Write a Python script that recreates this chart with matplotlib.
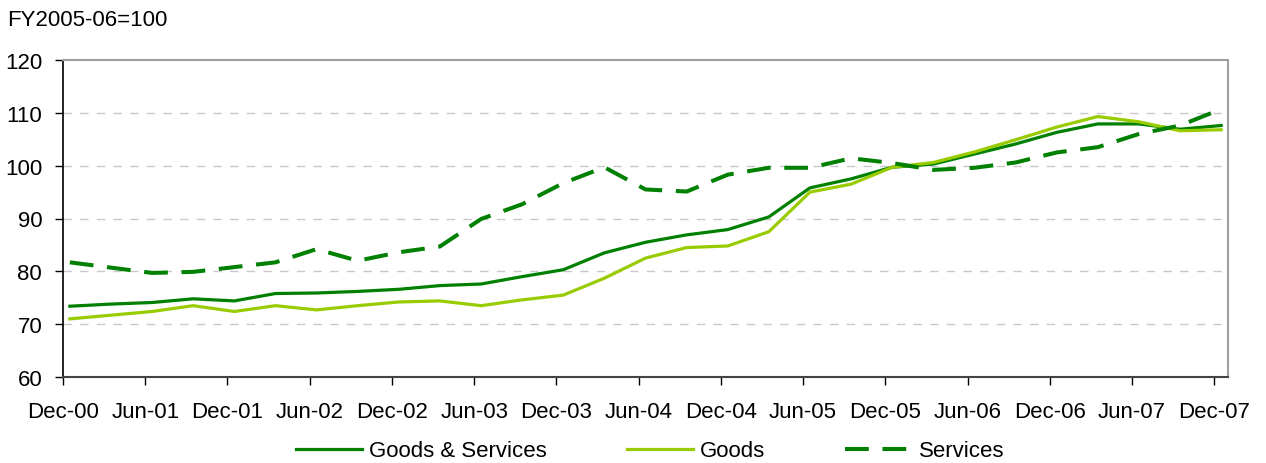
import numpy as np
import matplotlib
matplotlib.use("Agg")
import matplotlib.pyplot as plt

# ---- data ----
tick_labels = ["Dec-00", "Jun-01", "Dec-01", "Jun-02", "Dec-02", "Jun-03", "Dec-03",
               "Jun-04", "Dec-04", "Jun-05", "Dec-05", "Jun-06", "Dec-06", "Jun-07", "Dec-07"]
goods_services = [73.4, 73.8, 74.1, 74.8, 74.4, 75.8, 75.9, 76.2, 76.6, 77.3, 77.6, 79.0,
                  80.3, 83.5, 85.5, 86.9, 87.9, 90.3, 95.8, 97.5, 99.7, 100.3, 102.2, 104.1,
                  106.3, 107.9, 107.9, 106.9, 107.6]
goods = [71.0, 71.7, 72.4, 73.5, 72.4, 73.5, 72.7, 73.5, 74.2, 74.4, 73.5, 74.6,
         75.5, 78.7, 82.5, 84.5, 84.8, 87.5, 95.0, 96.5, 99.7, 100.6, 102.6, 104.9,
         107.3, 109.3, 108.3, 106.6, 106.8]
services = [81.7, 80.7, 79.7, 79.9, 80.8, 81.7, 84.2, 82.0, 83.6, 84.7, 89.9, 92.7,
            96.7, 99.7, 95.5, 95.1, 98.3, 99.6, 99.6, 101.4, 100.5, 99.2, 99.6, 100.6,
            102.5, 103.5, 106.0, 107.6, 110.7]

plt.rcParams['font.family'] = ['Liberation Sans', 'DejaVu Sans']

DARK = "#008000"
LIGHT = "#99CC00"
FS = 16

fig = plt.figure(figsize=(12.66, 4.64), dpi=100)
ax = fig.add_axes([63/1266, 1-378/464, (1228-63)/1266, (378-61)/464])

# quarterly points on a monthly date axis, each centred in its month
x = np.arange(len(goods_services)) * 3 + 0.5

ax.plot(x, goods_services, color=DARK, lw=2.3, label="Goods & Services", solid_joinstyle='round')
ax.plot(x, goods, color=LIGHT, lw=2.3, label="Goods", solid_joinstyle='round')
ax.plot(x, services, color=DARK, lw=2.9, dashes=[5.9, 3.4], label="Services")

ax.set_xlim(0, 85)
ax.set_ylim(60, 120)
ax.set_xticks(np.arange(len(tick_labels)) * 6)
ax.set_xticklabels(tick_labels)
ax.set_yticks(np.arange(60, 121, 10))

ax.tick_params(axis='both', direction='out', length=5.5, width=1, color='black',
               labelsize=FS, labelcolor='black')
ax.tick_params(axis='y', pad=9.5)
ax.tick_params(axis='x', pad=12)

for y in [70, 80, 90, 100, 110]:
    ax.axhline(y, color='#c8c8c8', lw=1, dashes=[6, 6], zorder=0)

ax.spines['left'].set_color('black')
ax.spines['bottom'].set_color('#444444')
ax.spines['top'].set_color('#a0a0a0')
ax.spines['right'].set_color('#a0a0a0')
for s in ax.spines.values():
    s.set_linewidth(1.5)
ax.spines['left'].set_linewidth(1.2)

fig.text(7/1266, 1-26/464, "FY2005-06=100", fontsize=FS, ha='left', va='baseline')

leg = fig.legend(loc='center', bbox_to_anchor=(650/1266, 1-452/464), ncol=3, frameon=False,
                 fontsize=FS, handlelength=3.0, handletextpad=0.3, columnspacing=3.6)

fig.savefig("out.png", dpi=100)
